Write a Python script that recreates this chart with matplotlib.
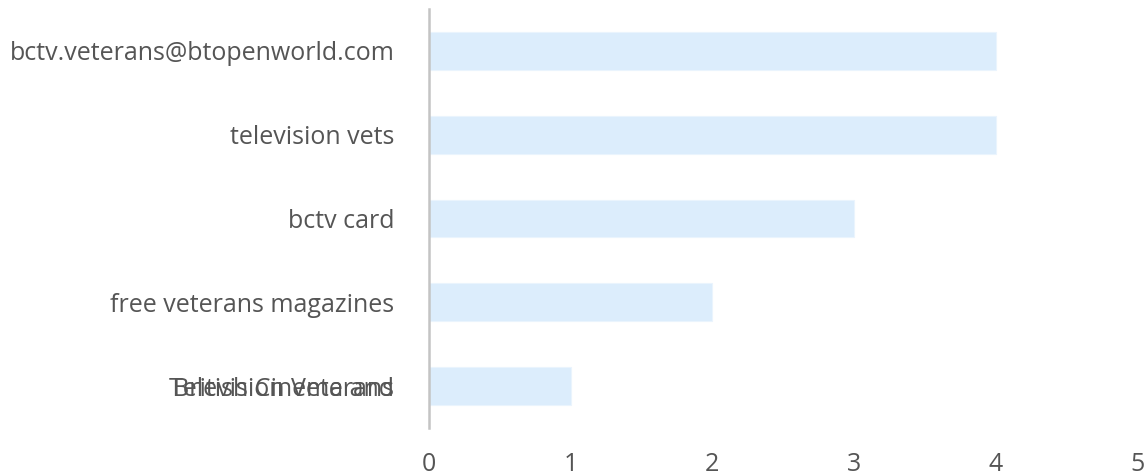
import matplotlib.pyplot as plt
from matplotlib.transforms import offset_copy

# data, bottom to top
categories = ["British Cinema and", "free veterans magazines", "bctv card",
              "television vets", "bctv.veterans@btopenworld.com"]
overlap_label = "Television Veterans"  # second line of the wrapped label, drawn on top
values = [1, 2, 3, 4, 4]
xticks = [0, 1, 2, 3, 4, 5]

plt.rcParams['font.family'] = ['Open Sans', 'DejaVu Sans']

fig = plt.figure(figsize=(11.48, 4.75), dpi=100)
ax = fig.add_axes([0.3737, 0.099, 0.617, 0.882])

ypos = list(range(len(categories)))
ax.barh(ypos, values, height=0.45, color="#dcedfc", edgecolor="#eaf4fd", linewidth=0.8)

ax.set_xlim(0, 5)
ax.set_ylim(-0.5, len(categories) - 0.5)
ax.set_xticks(xticks)
ax.set_xticklabels([str(t) for t in xticks])
ax.set_yticks(ypos)
ax.set_yticklabels(categories)

ypad = 25
fsize = 18
# wrapped label lines were drawn at the same spot in the original
tr = offset_copy(ax.get_yaxis_transform(), fig=fig, x=-ypad, units="points")
ax.text(0, 0, overlap_label, ha="right", va="center_baseline", fontsize=fsize,
        color="#555555", transform=tr, clip_on=False)

for s in ["top", "right", "bottom"]:
    ax.spines[s].set_visible(False)
ax.spines["left"].set_color("#c4c4c4")
ax.spines["left"].set_linewidth(1.8)

ax.tick_params(axis="y", length=0, pad=ypad, labelsize=fsize, labelcolor="#555555")
ax.tick_params(axis="x", length=0, pad=17, labelsize=fsize, labelcolor="#555555")

fig.savefig("out.png", dpi=100)
